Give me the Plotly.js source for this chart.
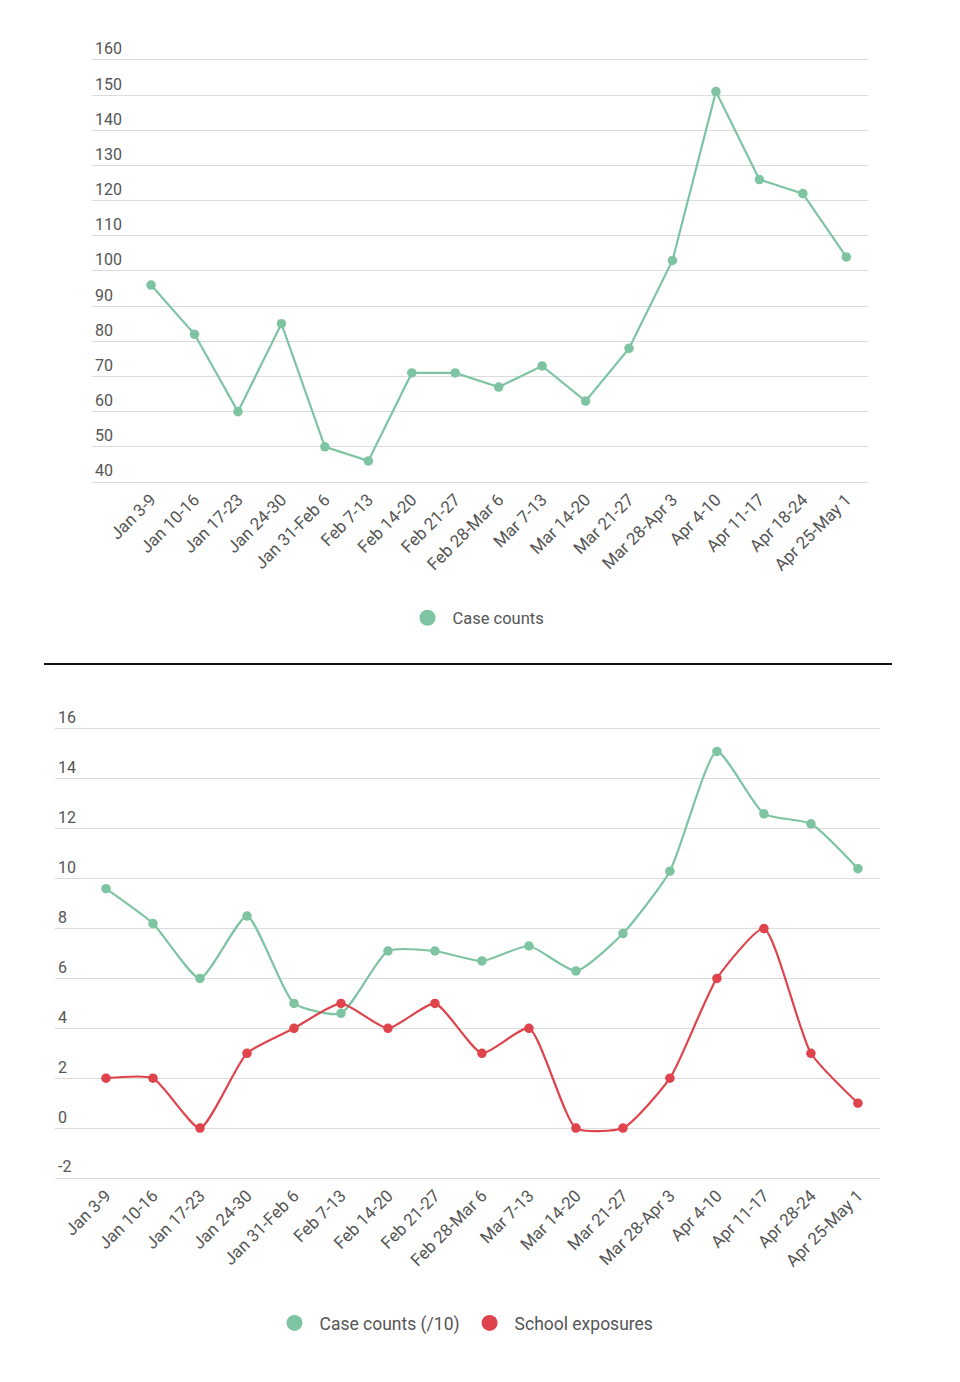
<!DOCTYPE html>
<html>
<head>
<meta charset="utf-8">
<script src="https://cdn.plot.ly/plotly-3.0.1.min.js"></script>
<style>html,body{margin:0;padding:0;background:#fff;}#chart{width:960px;height:1382px;}</style>
</head>
<body>
<div id="chart"></div>
<script>
// ---- data ----
const weeksTop = ["Jan 3-9","Jan 10-16","Jan 17-23","Jan 24-30","Jan 31-Feb 6","Feb 7-13","Feb 14-20","Feb 21-27","Feb 28-Mar 6","Mar 7-13","Mar 14-20","Mar 21-27","Mar 28-Apr 3","Apr 4-10","Apr 11-17","Apr 18-24","Apr 25-May 1"];
const weeksBottom = ["Jan 3-9","Jan 10-16","Jan 17-23","Jan 24-30","Jan 31-Feb 6","Feb 7-13","Feb 14-20","Feb 21-27","Feb 28-Mar 6","Mar 7-13","Mar 14-20","Mar 21-27","Mar 28-Apr 3","Apr 4-10","Apr 11-17","Apr 28-24","Apr 25-May 1"];
const caseCounts = [96, 82, 60, 85, 50, 46, 71, 71, 67, 73, 63, 78, 103, 151, 126, 122, 104];
const caseCountsDiv10 = [9.6, 8.2, 6.0, 8.5, 5.0, 4.6, 7.1, 7.1, 6.7, 7.3, 6.3, 7.8, 10.3, 15.1, 12.6, 12.2, 10.4];
const schoolExposures = [2, 2, 0, 3, 4, 5, 4, 5, 3, 4, 0, 0, 2, 6, 8, 3, 1];
const topTicks = [40, 50, 60, 70, 80, 90, 100, 110, 120, 130, 140, 150, 160];
const bottomTicks = [-2, 0, 2, 4, 6, 8, 10, 12, 14, 16];

// ---- style ----
const GREEN = "#7fc4a2";
const RED = "#df434c";
const TEXT = "#555555";
const GRID = "#dcdcdc";
const FONT = "Roboto, 'Open Sans', sans-serif";

const idxTop = weeksTop.map((_, i) => i);
const idxBottom = weeksBottom.map((_, i) => i);

const traces = [
  {x: idxTop, y: caseCounts, xaxis: "x", yaxis: "y", type: "scatter", mode: "lines+markers",
   line: {color: GREEN, width: 2.2, shape: "linear"}, marker: {color: GREEN, size: 9.5},
   name: "Case counts", showlegend: false, hoverinfo: "y"},
  {x: idxBottom, y: caseCountsDiv10, xaxis: "x2", yaxis: "y2", type: "scatter", mode: "lines+markers",
   line: {color: GREEN, width: 2.2, shape: "spline", smoothing: 0.55}, marker: {color: GREEN, size: 9.5},
   name: "Case counts (/10)", showlegend: false, hoverinfo: "y"},
  {x: idxBottom, y: schoolExposures, xaxis: "x2", yaxis: "y2", type: "scatter", mode: "lines+markers",
   line: {color: RED, width: 2.2, shape: "spline", smoothing: 0.55}, marker: {color: RED, size: 9.5},
   name: "School exposures", showlegend: false, hoverinfo: "y"},
  // legend entries (circle only)
  {x: [null], y: [null], xaxis: "x", yaxis: "y", type: "scatter", mode: "markers",
   marker: {color: GREEN, size: 20}, name: "Case counts", legend: "legend"},
  {x: [null], y: [null], xaxis: "x2", yaxis: "y2", type: "scatter", mode: "markers",
   marker: {color: GREEN, size: 20}, name: "Case counts (/10)", legend: "legend2"},
  {x: [null], y: [null], xaxis: "x2", yaxis: "y2", type: "scatter", mode: "markers",
   marker: {color: RED, size: 20}, name: "School exposures", legend: "legend2"}
];

const W = 960, H = 1382;
const px = v => v / W, py = v => 1 - v / H;

const yCommon = {
  showgrid: true, gridcolor: GRID, gridwidth: 1, zeroline: false, showline: false,
  ticks: "", tickfont: {family: FONT, size: 16, color: TEXT},
  ticklabelposition: "inside top", tickmode: "array", fixedrange: true
};
const xCommon = {
  showgrid: false, zeroline: false, showline: true, linecolor: GRID, linewidth: 1,
  ticks: "", tickangle: -45, tickfont: {family: FONT, size: 17, color: TEXT},
  tickmode: "array", fixedrange: true
};

const layout = {
  width: W, height: H,
  margin: {l: 0, r: 0, t: 0, b: 0},
  paper_bgcolor: "#ffffff", plot_bgcolor: "#ffffff",
  font: {family: FONT, color: TEXT},
  xaxis: Object.assign({}, xCommon, {
    domain: [px(92), px(868)], range: [-1.36, 16.5], anchor: "y",
    tickvals: idxTop, ticktext: weeksTop
  }),
  yaxis: Object.assign({}, yCommon, {
    domain: [py(482), py(38.85)], range: [40, 166], anchor: "x",
    tickvals: topTicks, ticktext: topTicks.map(String)
  }),
  xaxis2: Object.assign({}, xCommon, {
    domain: [px(55), px(880)], range: [-1.085, 16.47], anchor: "y2",
    tickvals: idxBottom, ticktext: weeksBottom
  }),
  yaxis2: Object.assign({}, yCommon, {
    domain: [py(1178), py(704.05)], range: [-2, 17], anchor: "x2",
    tickvals: bottomTicks, ticktext: bottomTicks.map(String)
  }),
  legend: {
    x: px(476), y: py(618), xanchor: "center", yanchor: "middle", orientation: "h",
    font: {family: FONT, size: 16.5, color: TEXT}, bgcolor: "rgba(0,0,0,0)", itemsizing: "trace", itemwidth: 40
  },
  legend2: {
    x: px(464), y: py(1323), xanchor: "center", yanchor: "middle", orientation: "h",
    font: {family: FONT, size: 17.5, color: TEXT}, bgcolor: "rgba(0,0,0,0)", itemsizing: "trace", itemwidth: 40
  },
  shapes: [
    {type: "line", xref: "paper", yref: "paper", x0: px(44), x1: px(892), y0: py(664), y1: py(664),
     line: {color: "#111111", width: 2}}
  ],
  hovermode: false
};

Plotly.newPlot("chart", traces, layout, {displayModeBar: false, staticPlot: true});
</script>
</body>
</html>
